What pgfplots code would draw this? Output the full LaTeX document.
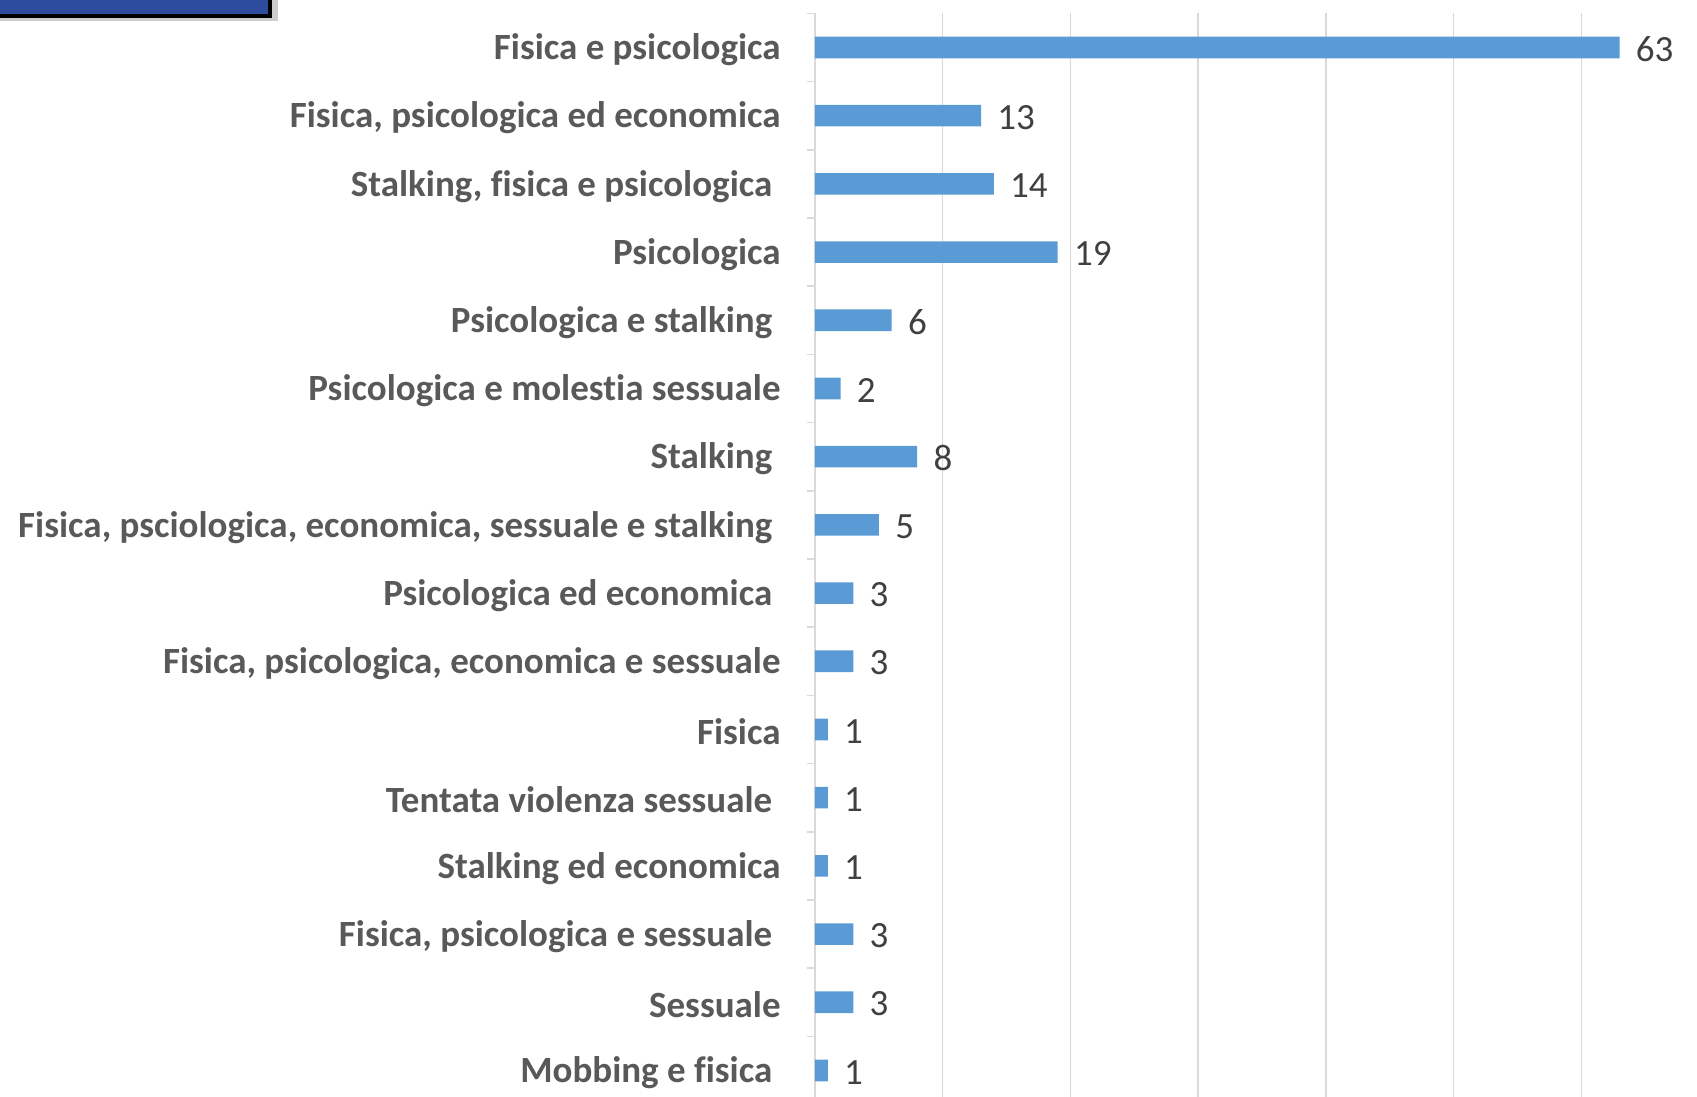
\documentclass[border=0pt]{standalone}
\usepackage{pgfplots}
\pgfplotsset{compat=1.18}
\usepackage{fontspec}
\setmainfont{Carlito}[Ligatures=NoCommon]
\definecolor{barblue}{HTML}{5B9BD5}
\definecolor{gridgray}{HTML}{D9D9D9}
\definecolor{labelgray}{HTML}{595959}
\definecolor{numgray}{HTML}{404040}
\definecolor{boxblue}{HTML}{2E4C9E}
\newcommand{\tsp}{\kern0.226em}
\begin{document}
\begin{tikzpicture}
\useasboundingbox (0,0) rectangle (848.5pt,548.5pt);
% cropped title box in the corner
\fill[black!20] (0pt,538pt) rectangle (139pt,560pt);
\draw[fill=boxblue, draw=black, line width=1.6pt] (-5pt,540.5pt) rectangle (135pt,560pt);
\begin{axis}[
  at={(407.5pt,-3.8pt)}, anchor=south west,
  scale only axis, width=440.6pt, height=545.6pt,
  xmin=0, xmax=69, ymin=-0.5, ymax=15.5,
  axis lines*=left,
  x axis line style={draw=none},
  y axis line style={draw=gridgray, line width=0.75pt},
  xtick={10,20,...,60}, xticklabels={},
  xmajorgrids, grid style={gridgray, line width=0.75pt},
  major x tick style={draw=none},
  ytick={0,...,15},
  yticklabels={Mobbing e fisica\tsp, Sessuale, Fisica{,} psicologica e sessuale\tsp,
    Stalking ed economica, Tentata violenza sessuale\tsp, Fisica,
    Fisica{,} psicologica{,} economica e sessuale, Psicologica ed economica\tsp,
    Fisica{,} psciologica{,} economica{,} sessuale e stalking\tsp, Stalking\tsp,
    Psicologica e molestia sessuale, Psicologica e stalking\tsp, Psicologica,
    Stalking{,} fisica e psicologica\tsp, Fisica{,} psicologica ed economica,
    Fisica e psicologica},
  major y tick style={draw=none}, major tick length=0pt,
  minor ytick={-0.5,0.5,...,15.5},
  minor y tick style={draw=gridgray, line width=0.75pt}, minor tick length=4pt,
  tick align=outside,
  yticklabel style={font=\bfseries\fontsize{18.5}{22}\selectfont, text=labelgray,
    inner sep=0pt, anchor=east, xshift=-17pt, yshift=-1.2pt},
  /pgf/number format/assume math mode=true,
  clip=false,
]
\addplot[xbar, fill=barblue, draw=none, bar width=10.8pt,
  point meta=x, nodes near coords,
  nodes near coords style={font=\fontsize{18.5}{22}\selectfont, text=numgray,
    anchor=west, inner sep=0pt, xshift=8pt, yshift=-0.8pt}]
  coordinates {
  (1,0) (3,1) (3,2) (1,3) (1,4) (1,5) (3,6) (3,7)
  (5,8) (8,9) (2,10) (6,11) (19,12) (14,13) (13,14) (63,15)
  };
\end{axis}
\end{tikzpicture}
\end{document}
